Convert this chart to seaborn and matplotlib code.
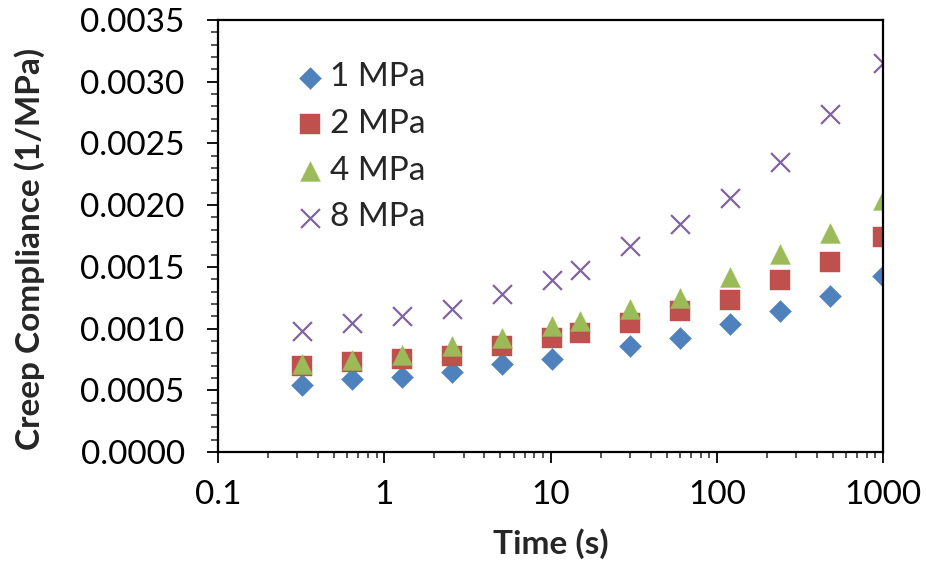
#Importing necessary libraries.
import pandas as pd
import numpy as np
import matplotlib
matplotlib.use("Agg")
import matplotlib.pyplot as plt
from matplotlib.ticker import FormatStrFormatter, MultipleLocator, LogLocator
import seaborn as sns

#Creep compliance data (time in s, compliance in 1/MPa).
time_1mpa = [0.32, 0.64, 1.28, 2.56, 5.12, 10.24, 30, 60, 120, 240, 480, 1000]
j_1mpa = [0.000543, 0.000589, 0.000605, 0.000648, 0.000710, 0.000756,
          0.000859, 0.000926, 0.001035, 0.001145, 0.001260, 0.001430]

time_all = [0.32, 0.64, 1.28, 2.56, 5.12, 10.24, 15, 30, 60, 120, 240, 480, 1000]
j_2mpa = [0.000699, 0.000732, 0.000754, 0.000778, 0.000859, 0.000921, 0.000962,
          0.001048, 0.001145, 0.001228, 0.001392, 0.001540, 0.001745]
j_4mpa = [0.000713, 0.000748, 0.000789, 0.000860, 0.000924, 0.001020, 0.001064,
          0.001160, 0.001250, 0.001414, 0.001607, 0.001775, 0.002045]
j_8mpa = [0.000983, 0.001043, 0.001105, 0.001159, 0.001280, 0.001394, 0.001475,
          0.001670, 0.001845, 0.002060, 0.002348, 0.002740, 0.003150]

labels = ["1 MPa", "2 MPa", "4 MPa", "8 MPa"]

#Long-form table for seaborn.
df = pd.concat([
    pd.DataFrame({"Time": time_1mpa, "J": j_1mpa, "Stress": labels[0]}),
    pd.DataFrame({"Time": time_all, "J": j_2mpa, "Stress": labels[1]}),
    pd.DataFrame({"Time": time_all, "J": j_4mpa, "Stress": labels[2]}),
    pd.DataFrame({"Time": time_all, "J": j_8mpa, "Stress": labels[3]}),
], ignore_index=True)

#Excel-like styling.
sns.set_style("white")
plt.rcParams["font.family"] = ["Lato", "DejaVu Sans"]

colors = ["#4F81BD", "#C0504D", "#9BBB59", "#8064A2"]
markers = ["D", "s", "^", "x"]
sizes = [125, 190, 205, 185]

fig = plt.figure(figsize=(9.26, 5.67), dpi=100)
ax = fig.add_axes([0.2354, 0.2028, 0.7182, 0.7619])

for lab, c, m, s in zip(labels, colors, markers, sizes):
    sub = df[df["Stress"] == lab]
    if m == "x":
        sns.scatterplot(data=sub, x="Time", y="J", ax=ax, marker=m, s=s,
                        color=c, linewidth=1.6, label=lab)
    else:
        sns.scatterplot(data=sub, x="Time", y="J", ax=ax, marker=m, s=s,
                        color=c, edgecolor=c, linewidth=0.3, label=lab)

ax.set_xscale("log")
ax.set_xlim(0.1, 1000)
ax.set_ylim(0, 0.0035)
ax.yaxis.set_major_locator(MultipleLocator(0.0005))
ax.yaxis.set_minor_locator(MultipleLocator(0.0001))
ax.yaxis.set_major_formatter(FormatStrFormatter("%.4f"))
ax.xaxis.set_major_locator(LogLocator(base=10))
ax.xaxis.set_minor_locator(LogLocator(base=10, subs=np.arange(2, 10)))
ax.set_xticks([0.1, 1, 10, 100, 1000])
ax.set_xticklabels(["0.1", "1", "10", "100", "1000"])

for sp in ax.spines.values():
    sp.set_visible(True)
    sp.set_color("black")
    sp.set_linewidth(1.6)

ax.tick_params(axis="both", which="major", labelsize=24, colors="black",
               direction="out", width=1.3, length=8)
ax.tick_params(axis="both", which="minor", direction="out", width=1.1, length=4)
ax.tick_params(axis="y", which="major", pad=16)
ax.tick_params(axis="y", which="minor", length=5)
ax.tick_params(axis="x", which="major", pad=12)
ax.tick_params(bottom=True, left=True, which="both")

ax.set_xlabel("Time (s)", fontsize=24, fontweight="bold")
ax.set_ylabel("Creep Compliance (1/MPa)", fontsize=24, fontweight="bold")
ax.xaxis.set_label_coords(0.5, -0.177)
ax.yaxis.set_label_coords(-0.26, 0.47)

ax.legend(loc="upper left", bbox_to_anchor=(0.093, 0.933), frameon=False,
          fontsize=24, handlelength=1.0, handletextpad=0.1, labelspacing=0.5,
          borderaxespad=0)

plt.savefig("out.png", dpi=100)
